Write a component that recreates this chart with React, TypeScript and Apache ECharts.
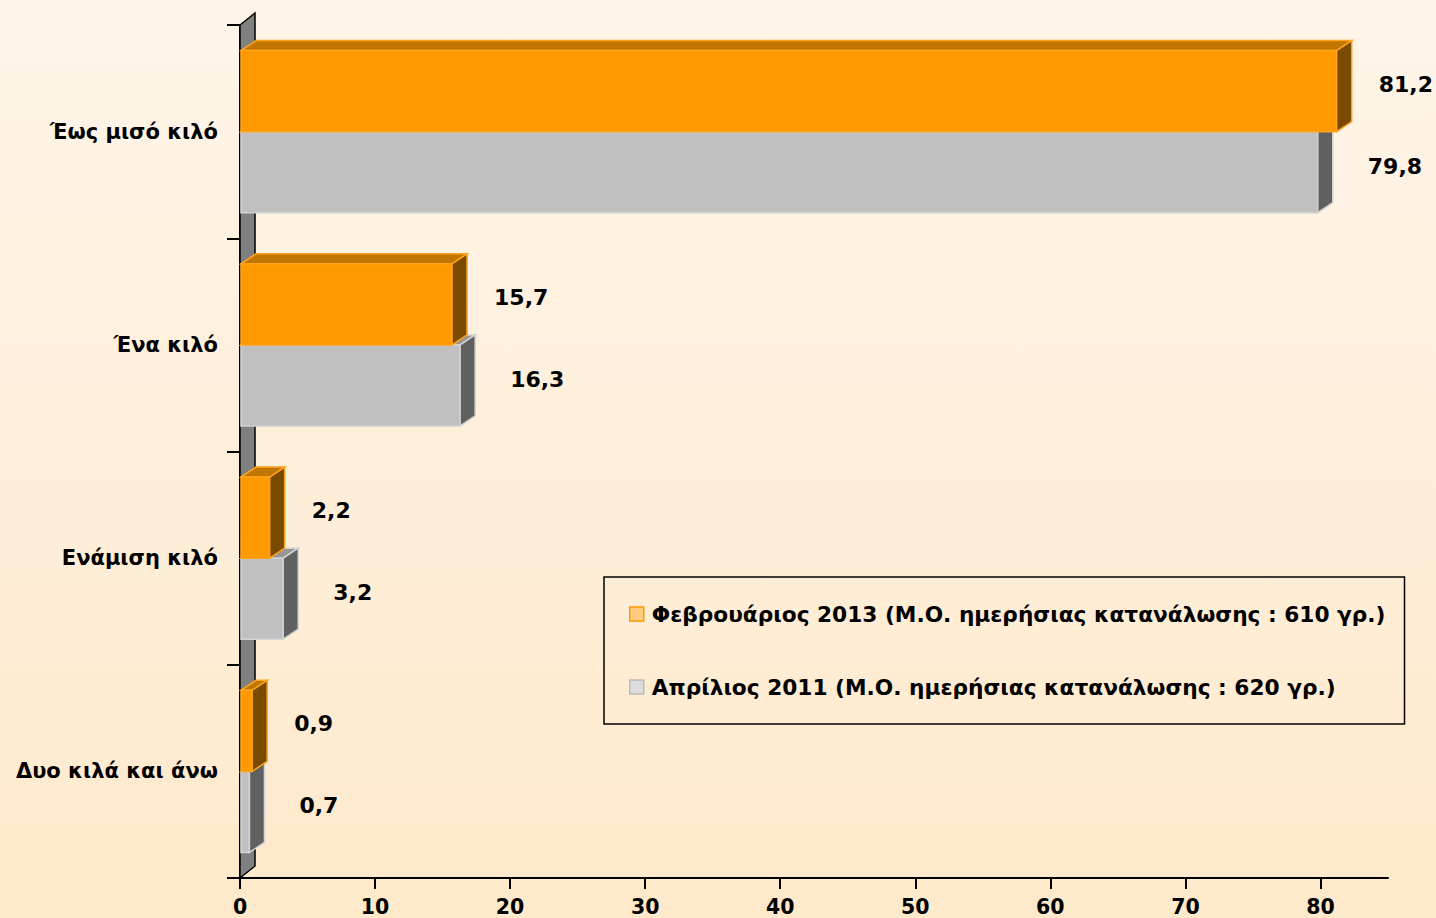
import React, { useEffect, useRef } from 'react';
import * as echarts from 'echarts';

const categories = ['Έως μισό κιλό', 'Ένα κιλό', 'Ενάμιση κιλό', 'Δυο κιλά και άνω'];
const feb2013 = [81.2, 15.7, 2.2, 0.9];
const apr2011 = [79.8, 16.3, 3.2, 0.7];
const seriesNames = [
  'Φεβρουάριος 2013 (Μ.Ο. ημερήσιας κατανάλωσης : 610 γρ.)',
  'Απρίλιος 2011 (Μ.Ο. ημερήσιας κατανάλωσης : 620 γρ.)',
];
const xTicks = [0, 10, 20, 30, 40, 50, 60, 70, 80];

const FONT = '"DejaVu Sans", Verdana, sans-serif';
const DX = 15;
const DY = -10;

const orangePal = { front: '#FF9900', top: '#C07600', side: '#7A4A00', stroke: '#FFA31A' };
const grayPal = { front: '#C0C0C0', top: '#969696', side: '#606060', stroke: '#D2D2D2' };

function fmt(v: number) {
  return v.toFixed(1).replace('.', ',');
}

function makeBarRenderer(slot: number, pal: any, labelDx: number, labelDy: number) {
  return (params: any, api: any) => {
    const val = api.value(0);
    const cat = api.value(1);
    const p0 = api.coord([0, cat]);
    const p1 = api.coord([val, cat]);
    const band = api.size([0, 1])[1];
    const h = band * 0.38;
    const yTop = p0[1] - h + slot * h;
    const yBot = yTop + h;
    const x0 = p0[0] + 1;
    const x1 = p1[0];
    const sw = 1.5;
    return {
      type: 'group',
      children: [
        {
          type: 'polygon',
          shape: { points: [[x0, yTop], [x1, yTop], [x1 + DX, yTop + DY], [x0 + DX, yTop + DY]] },
          style: { fill: pal.top, stroke: pal.stroke, lineWidth: sw },
        },
        {
          type: 'rect',
          shape: { x: x0, y: yTop, width: x1 - x0, height: h },
          style: { fill: pal.front, stroke: pal.stroke, lineWidth: sw },
        },
        {
          type: 'polygon',
          shape: { points: [[x1, yTop], [x1 + DX, yTop + DY], [x1 + DX, yBot + DY], [x1, yBot]] },
          style: { fill: pal.side, stroke: pal.stroke, lineWidth: sw },
        },
        {
          type: 'text',
          x: x1 + labelDx,
          y: (yTop + yBot) / 2 + labelDy,
          style: {
            text: fmt(val),
            fill: '#000',
            font: `bold 22px ${FONT}`,
            align: 'left',
            verticalAlign: 'middle',
          },
        },
      ],
    };
  };
}

function renderWall(params: any, api: any) {
  const cs = params.coordSys;
  const x = cs.x;
  const y = cs.y;
  const h = cs.height;
  return {
    type: 'polygon',
    shape: { points: [[x, y + h], [x, y], [x + 15, y - 12], [x + 15, y + h - 12]] },
    style: { fill: '#808080', stroke: '#000', lineWidth: 1.5 },
  };
}

export default function App() {
  const ref = useRef<HTMLDivElement>(null);
  useEffect(() => {
    if (!ref.current) return;
    const chart = echarts.init(ref.current, null, { renderer: 'svg' });
    chart.setOption({
      animation: false,
      backgroundColor: {
        type: 'linear',
        x: 0,
        y: 0,
        x2: 0,
        y2: 1,
        colorStops: [
          { offset: 0, color: '#FEF5E9' },
          { offset: 1, color: '#FFE9CB' },
        ],
      },
      grid: { left: 240, right: 48, top: 25, bottom: 40, containLabel: false },
      legend: {
        left: 604,
        top: 577,
        orient: 'vertical',
        selectedMode: false,
        icon: 'rect',
        itemWidth: 14,
        itemHeight: 14,
        itemGap: 51,
        padding: [26, 19, 26, 25],
        borderColor: '#000',
        borderWidth: 1.5,
        textStyle: { fontFamily: FONT, fontWeight: 'bold', fontSize: 21.7, color: '#000', padding: [0, 0, 0, 3] },
        data: [
          { name: seriesNames[0], itemStyle: { color: '#FFCC80', borderColor: '#FF9900', borderWidth: 1.5 } },
          { name: seriesNames[1], itemStyle: { color: '#DDDDDD', borderColor: '#BBBBBB', borderWidth: 1.5 } },
        ],
      },
      xAxis: {
        type: 'value',
        min: 0,
        max: 85,
        interval: 10,
        axisLine: { show: true, lineStyle: { color: '#000', width: 2 } },
        axisTick: { show: true, length: 11, lineStyle: { color: '#000', width: 2 }, customValues: xTicks },
        axisLabel: { customValues: xTicks, fontFamily: FONT, fontWeight: 'bold', fontSize: 20.5, color: '#000', margin: 18 },
        splitLine: { show: false },
      },
      yAxis: {
        type: 'category',
        data: categories,
        inverse: true,
        axisLine: { show: true, lineStyle: { color: '#000', width: 2 } },
        axisTick: { show: true, length: 13, lineStyle: { color: '#000', width: 2 } },
        axisLabel: { fontFamily: FONT, fontWeight: 'bold', fontSize: 21, color: '#000', margin: 22 },
        splitLine: { show: false },
      },
      series: [
        {
          type: 'custom',
          name: 'wall',
          z: 1,
          silent: true,
          renderItem: renderWall,
          encode: { x: 0, y: 1 },
          data: [[0, 0]],
        },
        {
          type: 'custom',
          name: seriesNames[1],
          z: 2,
          itemStyle: { color: '#DDDDDD' },
          renderItem: makeBarRenderer(1, grayPal, 50, -6),
          encode: { x: 0, y: 1 },
          data: apr2011.map((v, i) => [v, i]),
        },
        {
          type: 'custom',
          name: seriesNames[0],
          z: 3,
          itemStyle: { color: '#FFCC80' },
          renderItem: makeBarRenderer(0, orangePal, 42, -7),
          encode: { x: 0, y: 1 },
          data: feb2013.map((v, i) => [v, i]),
        },
      ],
    });
    return () => chart.dispose();
  }, []);
  return <div ref={ref} style={{ position: 'fixed', left: 0, top: 0, width: 1436, height: 918 }} />;
}
